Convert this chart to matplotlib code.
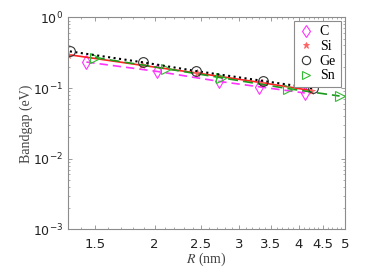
import matplotlib
matplotlib.use('Agg')
import matplotlib.pyplot as plt
from matplotlib.lines import Line2D
from matplotlib.ticker import FixedLocator, NullFormatter, LogLocator
import numpy as np

plt.rcParams['mathtext.fontset'] = 'stix'

# data
r_c = [1.44, 2.02, 2.73, 3.31, 4.12]
gap_c = [0.233, 0.172, 0.124, 0.104, 0.085]
r_si = [1.32, 1.88, 2.45, 3.35, 4.25]
gap_si = [0.297, 0.210, 0.163, 0.119, 0.092]
r_ge = [1.33, 1.89, 2.44, 3.37, 4.28]
gap_ge = [0.330, 0.231, 0.174, 0.126, 0.099]
r_sn = [1.50, 2.11, 2.75, 3.80, 4.87]
gap_sn = [0.270, 0.188, 0.140, 0.098, 0.077]

xticks = [1.5, 2, 2.5, 3, 3.5, 4, 4.5, 5]
xticklabels = ['1.5', '2', '2.5', '3', '3.5', '4', '4.5', '5']

magenta = '#ff33ff'
red = '#ff2020'
green = '#1a9a1a'
axcol = '#8c8c8c'

fig = plt.figure(figsize=(3.74, 2.8), dpi=100)
ax = fig.add_axes([0.1826, 0.181, 0.74, 0.757])

ax.plot(r_c, gap_c, '--', color=magenta, lw=1.2, dashes=(5, 3))
ax.plot(r_c, gap_c, 'd', mfc='none', mec=magenta, ms=7, mew=0.8)
ax.plot(r_si, gap_si, '-', color=red, lw=1.2)
ax.plot(r_si, gap_si, '*', color='#ff6060', ms=5.5, mew=0.6)
ax.plot(r_sn, gap_sn, '--', color=green, lw=1.2, dashes=(6, 3))
ax.plot(r_sn, gap_sn, '>', mfc='none', mec='#33bb33', ms=7, mew=0.8)
ax.plot(r_ge, gap_ge, ':', color='black', lw=1.5)
ax.plot(r_ge, gap_ge, 'o', mfc='none', mec='#333333', ms=7, mew=0.8)

ax.set_xscale('log')
ax.set_yscale('log')
ax.set_xlim(1.32, 5)
ax.set_ylim(1e-3, 1)

ax.xaxis.set_major_locator(FixedLocator(xticks))
ax.set_xticklabels(xticklabels)
minor = [v for v in np.round(np.arange(1.4, 5.0, 0.1), 1) if v not in xticks]
ax.xaxis.set_minor_locator(FixedLocator(minor))
ax.xaxis.set_minor_formatter(NullFormatter())
ax.yaxis.set_major_locator(LogLocator(base=10, numticks=10))
ax.yaxis.set_minor_locator(LogLocator(base=10, subs=np.arange(2, 10), numticks=10))
ax.yaxis.set_minor_formatter(NullFormatter())

ax.tick_params(which='both', direction='in', top=True, right=True, colors=axcol,
               labelcolor='#222222', labelsize=9)
ax.tick_params(axis='x', which='major', pad=6, labelsize=9.5)
ax.tick_params(which='major', length=3, width=0.6)
ax.tick_params(which='minor', length=1.6, width=0.5)
for s in ax.spines.values():
    s.set_color(axcol)
    s.set_linewidth(0.8)

ax.set_xlabel('$R$ (nm)', family='Liberation Serif', fontsize=10, color='#444444', labelpad=0)
ax.set_ylabel('Bandgap (eV)', family='Liberation Serif', fontsize=10, color='#444444')
ax.yaxis.set_label_coords(-0.128, 0.5)

handles = [
    Line2D([], [], ls='none', marker='d', mfc='none', mec=magenta, ms=6, mew=0.8),
    Line2D([], [], ls='none', marker='*', color='#ff6060', ms=5, mew=0.6),
    Line2D([], [], ls='none', marker='o', mfc='none', mec='#333333', ms=6, mew=0.8),
    Line2D([], [], ls='none', marker='>', mfc='none', mec='#33bb33', ms=6, mew=0.8),
]
leg = ax.legend(handles, ['C', 'Si', 'Ge', 'Sn'], loc='upper right',
                bbox_to_anchor=(0.985, 0.985), prop={'family': 'Liberation Serif', 'size': 10},
                fancybox=False, framealpha=1, edgecolor=axcol, handlelength=1.0,
                handletextpad=0.5, borderpad=0.35, labelspacing=0.12, borderaxespad=0)
leg.get_frame().set_linewidth(0.8)

fig.savefig('out.png', dpi=100)
